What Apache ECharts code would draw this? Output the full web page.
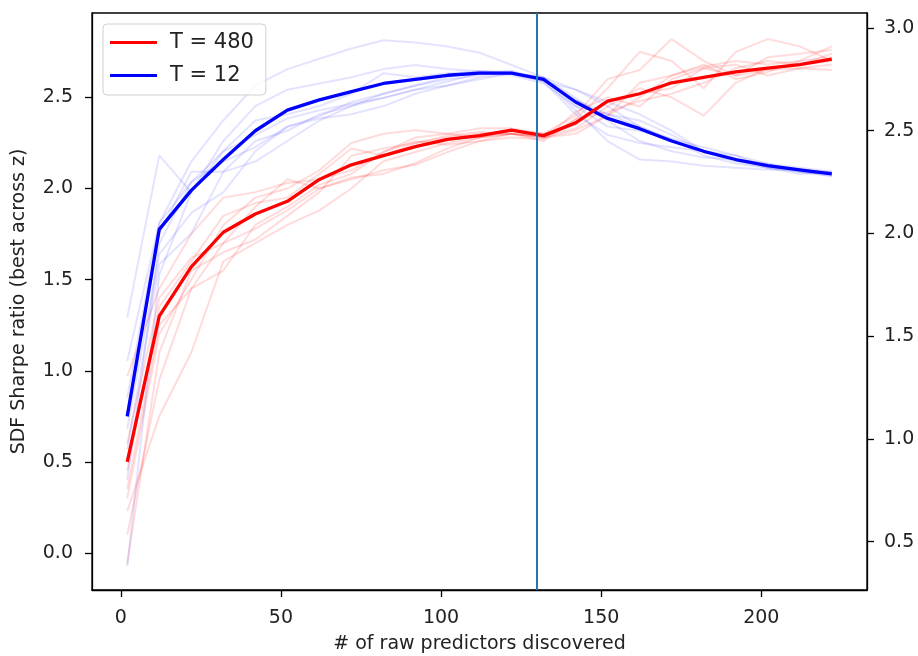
<!DOCTYPE html>
<html>
<head>
<meta charset="utf-8">
<script src="https://cdn.jsdelivr.net/npm/echarts@6/dist/echarts.min.js"></script>
<style>
html,body{margin:0;padding:0;background:#fff;}
#chart{width:918px;height:656px;}
</style>
</head>
<body>
<div id="chart"></div>
<script>
// x positions (# of raw predictors discovered)
const xs = [2,12,22,32,42,52,62,72,82,92,102,112,122,132,142,152,162,172,182,192,202,212,222];

// T = 480 (left axis): mean line
const redMean = [0.50,1.30,1.57,1.76,1.86,1.93,2.05,2.13,2.18,2.23,2.27,2.29,2.32,2.29,2.36,2.48,2.52,2.58,2.61,2.64,2.66,2.68,2.71];
// T = 480 individual runs
const redRun1 = [0.97,1.45,1.75,1.95,1.98,2.03,2.05,2.10,2.20,2.28,2.30,2.33,2.33,2.30,2.40,2.60,2.65,2.82,2.70,2.62,2.72,2.74,2.76];
const redRun2 = [0.30,1.20,1.50,1.80,1.95,2.00,2.10,2.25,2.30,2.32,2.30,2.28,2.30,2.26,2.38,2.55,2.75,2.70,2.55,2.75,2.82,2.78,2.70];
const redRun3 = [0.23,0.75,1.10,1.60,1.70,1.80,1.88,2.00,2.15,2.20,2.25,2.28,2.30,2.28,2.32,2.40,2.58,2.62,2.68,2.60,2.64,2.70,2.72];
const redRun4 = [0.10,0.95,1.45,1.70,1.90,2.05,2.00,2.05,2.10,2.13,2.20,2.26,2.28,2.27,2.42,2.50,2.45,2.60,2.66,2.68,2.62,2.66,2.68];
const redRun5 = [-0.06,1.10,1.55,1.65,1.72,1.85,1.98,2.18,2.22,2.25,2.28,2.30,2.30,2.29,2.33,2.45,2.55,2.50,2.40,2.58,2.66,2.68,2.74];
const redRun6 = [0.45,1.35,1.60,1.85,1.92,1.95,2.08,2.22,2.18,2.25,2.29,2.31,2.30,2.28,2.30,2.40,2.50,2.62,2.67,2.70,2.68,2.70,2.78];
const redRun7 = [0.60,1.40,1.62,1.70,1.78,1.88,2.00,2.06,2.08,2.14,2.22,2.28,2.32,2.30,2.35,2.48,2.52,2.55,2.66,2.62,2.65,2.66,2.65];
const redRun8 = [0.35,1.25,1.45,1.55,1.80,1.90,2.02,2.08,2.20,2.26,2.24,2.26,2.30,2.28,2.38,2.42,2.48,2.52,2.58,2.66,2.70,2.68,2.70];

// T = 12 (right axis): mean line
const blueMean = [1.11,2.02,2.21,2.36,2.50,2.60,2.65,2.69,2.73,2.75,2.77,2.78,2.78,2.75,2.64,2.56,2.51,2.45,2.40,2.36,2.33,2.31,2.29];
// T = 12 individual runs
const blueRun1 = [1.59,2.38,2.20,2.45,2.62,2.70,2.73,2.76,2.80,2.82,2.80,2.79,2.78,2.74,2.70,2.62,2.52,2.45,2.40,2.36,2.33,2.30,2.28];
const blueRun2 = [1.38,2.05,2.35,2.55,2.72,2.80,2.85,2.90,2.94,2.93,2.91,2.88,2.82,2.76,2.66,2.55,2.45,2.40,2.37,2.36,2.34,2.32,2.30];
const blueRun3 = [0.38,1.80,2.20,2.40,2.55,2.58,2.62,2.68,2.78,2.76,2.78,2.79,2.78,2.76,2.70,2.64,2.58,2.50,2.40,2.35,2.32,2.31,2.29];
const blueRun4 = [1.11,2.00,2.30,2.30,2.35,2.45,2.55,2.62,2.68,2.72,2.75,2.77,2.79,2.74,2.58,2.48,2.44,2.42,2.40,2.38,2.34,2.30,2.29];
const blueRun5 = [0.80,1.95,2.25,2.40,2.48,2.56,2.60,2.63,2.66,2.70,2.74,2.78,2.77,2.73,2.62,2.58,2.52,2.46,2.38,2.34,2.32,2.30,2.28];
const blueRun6 = [1.05,1.90,2.10,2.20,2.40,2.52,2.56,2.58,2.62,2.68,2.72,2.76,2.78,2.75,2.60,2.45,2.36,2.35,2.33,2.32,2.31,2.31,2.30];
const blueRun7 = [0.95,1.85,2.00,2.30,2.45,2.50,2.58,2.62,2.66,2.70,2.72,2.75,2.78,2.76,2.62,2.52,2.50,2.46,2.42,2.38,2.32,2.29,2.30];
const blueRun8 = [1.20,2.05,2.25,2.35,2.42,2.52,2.57,2.64,2.68,2.72,2.76,2.79,2.79,2.75,2.65,2.58,2.55,2.48,2.40,2.36,2.33,2.31,2.29];

// axis ticks
const xTicks = [0,50,100,150,200];
const leftTicks = [0,0.5,1.0,1.5,2.0,2.5];
const rightTicks = [0.5,1.0,1.5,2.0,2.5,3.0];
const splitX = 130;

const redRuns = [redRun1,redRun2,redRun3,redRun4,redRun5,redRun6,redRun7,redRun8];
const blueRuns = [blueRun1,blueRun2,blueRun3,blueRun4,blueRun5,blueRun6,blueRun7,blueRun8];

const pair = arr => arr.map((v,i) => [xs[i], v]);
const FONT = 'DejaVu Sans';
const TXT = '#222';

const series = [];
redRuns.forEach((r,i) => series.push({
  name: 'redrun' + i, type: 'line', yAxisIndex: 0, data: pair(r),
  symbol: 'none', silent: true, z: 1,
  lineStyle: {color: 'rgba(255,0,0,0.14)', width: 2},
  itemStyle: {color: 'rgba(255,0,0,0.14)'}
}));
blueRuns.forEach((r,i) => series.push({
  name: 'bluerun' + i, type: 'line', yAxisIndex: 1, data: pair(r),
  symbol: 'none', silent: true, z: 1,
  lineStyle: {color: 'rgba(0,0,255,0.11)', width: 2},
  itemStyle: {color: 'rgba(0,0,255,0.11)'}
}));
series.push({
  name: 'T = 12', type: 'line', yAxisIndex: 1, data: pair(blueMean),
  symbol: 'none', z: 3, color: '#0000ff',
  lineStyle: {color: '#0000ff', width: 3.3}
});
series.push({
  name: 'T = 480', type: 'line', yAxisIndex: 0, data: pair(redMean),
  symbol: 'none', z: 4, color: '#ff0000',
  lineStyle: {color: '#ff0000', width: 3.3},
  markLine: {
    silent: true, symbol: 'none', animation: false,
    label: {show: false},
    lineStyle: {color: '#1f77b4', width: 2, type: 'solid'},
    data: [{xAxis: splitX}]
  }
});

const chart = echarts.init(document.getElementById('chart'), null, {renderer: 'canvas'});
chart.setOption({
  animation: false,
  backgroundColor: '#fff',
  textStyle: {fontFamily: FONT},
  grid: {left: 92, right: 51, top: 13, bottom: 66, containLabel: false, outerBoundsMode: 'none',
    show: true, borderColor: '#000', borderWidth: 1.3, backgroundColor: 'transparent'},
  legend: {
    data: ['T = 480', 'T = 12'],
    orient: 'vertical', left: 103, top: 24,
    icon: 'rect', itemWidth: 47, itemHeight: 3, itemGap: 12,
    padding: [8, 12, 9, 7],
    borderColor: '#d0d0d0', borderWidth: 1, borderRadius: 4,
    backgroundColor: 'rgba(255,255,255,0.8)',
    textStyle: {fontFamily: FONT, fontSize: 21, color: TXT, padding: [0,0,0,8]},
    selectedMode: false
  },
  xAxis: {
    type: 'value', min: -9, max: 233,
    name: '# of raw predictors discovered', nameLocation: 'middle', nameGap: 45,
    nameTextStyle: {fontFamily: FONT, fontSize: 19, color: TXT},
    axisLine: {show: true, onZero: false, lineStyle: {color: '#000', width: 1.3}},
    axisTick: {show: true, length: 7, customValues: xTicks, lineStyle: {color: '#000', width: 1.3}},
    axisLabel: {customValues: xTicks, margin: 19, fontFamily: FONT, fontSize: 19, color: TXT,
      formatter: v => String(Math.round(v))},
    splitLine: {show: false}
  },
  yAxis: [{
    type: 'value', position: 'left', min: -0.203, max: 2.963,
    name: 'SDF Sharpe ratio (best across z)', nameLocation: 'middle', nameGap: 63, nameRotate: 90,
    nameTextStyle: {fontFamily: FONT, fontSize: 19, color: TXT},
    axisLine: {show: true, onZero: false, lineStyle: {color: '#000', width: 1.3}},
    axisTick: {show: true, length: 7, customValues: leftTicks, lineStyle: {color: '#000', width: 1.3}},
    axisLabel: {customValues: leftTicks, margin: 19, fontFamily: FONT, fontSize: 19, color: TXT,
      formatter: v => v.toFixed(1)},
    splitLine: {show: false}
  }, {
    type: 'value', position: 'right', min: 0.265, max: 3.073,
    axisLine: {show: true, onZero: false, lineStyle: {color: '#000', width: 1.3}},
    axisTick: {show: true, length: 7, customValues: rightTicks, lineStyle: {color: '#000', width: 1.3}},
    axisLabel: {customValues: rightTicks, margin: 17, fontFamily: FONT, fontSize: 19, color: TXT,
      formatter: v => v.toFixed(1)},
    splitLine: {show: false}
  }],
  series: series
});
</script>
</body>
</html>
